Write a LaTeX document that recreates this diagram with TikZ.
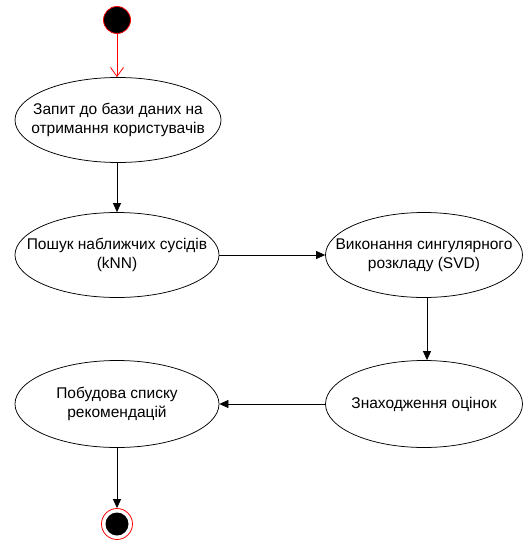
\documentclass[tikz,border=0pt]{standalone}
\usepackage{fontspec}
\setmainfont{Liberation Sans}
\usetikzlibrary{shapes.geometric,arrows.meta}
\begin{document}
\begin{tikzpicture}[x=1pt,y=-1pt,
  act/.style={draw=black,line width=0.75pt,ellipse,inner sep=0pt},
  txt/.style={align=center,inner sep=0pt,font=\fontsize{15.5}{19}\selectfont},
  flow/.style={draw=black,line width=0.75pt,-{Triangle[width=8pt,length=9pt]}},
]
\useasboundingbox (0,0) rectangle (522,545);
\node[circle,fill=black,draw=red,line width=0.8pt,minimum size=27pt,inner sep=0pt] (start) at (117,20) {};
\node[act,minimum width=206pt,minimum height=85pt] (q) at (118,120) {};
\node[txt] (qt) at (q.center) {Запит до бази даних на\\отримання користувачів};
\node[act,minimum width=204pt,minimum height=85pt] (knn) at (117,255) {};
\node[txt] (knnt) at (knn.center) {Пошук наближчих сусідів\\(kNN)};
\node[act,minimum width=197pt,minimum height=85pt] (svd) at (424,255) {};
\node[txt] (svdt) at (svd.center) {Виконання сингулярного\\розкладу (SVD)};
\node[act,minimum width=197pt,minimum height=87pt] (est) at (424,404) {};
\node[txt] (estt) at (est.center) {Знаходження оцінок};
\node[act,minimum width=204pt,minimum height=87pt] (rec) at (117,404) {};
\node[txt] (rect) at (rec.center) {Побудова списку\\рекомендацій};
\node[circle,draw=red,line width=0.8pt,minimum size=31pt,inner sep=0pt] (end) at (117,524) {};
\node[circle,fill=black,minimum size=23pt,inner sep=0pt] (endin) at (end.center) {};
\draw[red,line width=0.8pt,-{Straight Barb[length=9pt,width=13pt]}] (start) -- (start |- q.north);
\draw[flow] (q.south -| 117,0) -- (knn.north);
\draw[flow] (knn.east) -- (knn.east -| svd.west);
\draw[flow] (svd.south -| 427,0) -- (est.north -| 427,0);
\draw[flow] (est.west) -- (rec.east);
\draw[flow] (rec.south) -- (end.north);
\end{tikzpicture}
\end{document}
